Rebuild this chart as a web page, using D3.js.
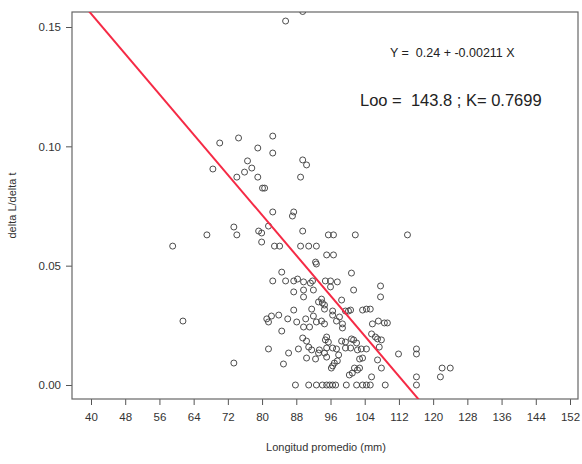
<!DOCTYPE html>
<html>
<head>
<meta charset="utf-8">
<script src="https://cdn.jsdelivr.net/npm/d3@7"></script>
<style>
  body { margin: 0; background: #fff; }
  svg { font-family: 'Liberation Sans', Arial, sans-serif; }
  .axis text { fill: #333; font-size: 11.5px; }
  .axis path, .axis line { stroke: #555; }
</style>
</head>
<body>
<div id="chart"></div>
<script>
// longitud promedio (mm)
const longitud = [
  85.5, 70.1, 74.5, 82.5, 79.0, 82.5, 76.6, 89.5, 90.4, 68.5,
  77.6, 75.9, 74.1, 79.0, 89.0, 80.1, 80.6, 82.5, 87.4, 87.1,
  81.5, 73.4, 74.1, 67.1, 79.2, 79.9, 89.5, 79.9, 59.1, 82.9,
  84.1, 89.0, 90.9, 92.7, 95.5, 96.7, 101.8, 114.0, 95.1, 96.7,
  92.5, 92.7, 84.6, 100.9, 82.5, 85.5, 87.4, 88.3, 89.7, 91.3,
  91.8, 94.8, 96.0, 97.6, 96.0, 107.7, 87.4, 89.7, 92.0, 101.4,
  89.7, 93.2, 93.9, 94.1, 94.6, 107.7, 98.6, 87.4, 91.6, 94.6,
  96.5, 96.5, 98.1, 99.5, 100.2, 100.7, 103.5, 104.4, 105.3, 61.5,
  81.1, 81.5, 82.2, 83.9, 86.0, 88.1, 89.7, 91.1, 92.0, 92.7,
  93.9, 94.6, 97.4, 98.8, 98.8, 107.2, 108.6, 109.3, 105.8, 84.6,
  89.5, 90.4, 90.9, 91.6, 81.5, 86.2, 88.5, 90.4, 92.5, 73.4,
  85.0, 95.1, 94.8, 95.5, 98.6, 99.5, 100.9, 101.4, 102.1, 105.6,
  106.5, 107.0, 93.4, 95.1, 96.5, 97.9, 97.4, 99.5, 100.7, 102.3,
  103.2, 104.4, 107.4, 107.9, 111.9, 116.1, 116.1, 94.6, 95.1, 97.6,
  102.8, 103.5, 107.0, 107.9, 96.2, 96.5, 101.6, 102.3, 102.8, 101.1,
  100.4, 105.6, 116.1, 121.7, 122.1, 124.0,
  87.8, 90.9, 92.7, 94.1, 95.1, 95.8, 96.5, 97.2, 99.7, 102.1,
  103.5, 104.4, 105.3, 108.8, 116.1,
  93.2, 96.9, 90.2, 89.5
]

// delta L / delta t
const deltaLdt = [
  0.1525, 0.1014, 0.1035, 0.1043, 0.0993, 0.0972, 0.0939, 0.0943, 0.0922, 0.0905,
  0.0909, 0.0892, 0.0871, 0.0871, 0.0871, 0.0825, 0.0825, 0.0725, 0.0725, 0.0708,
  0.0666, 0.0662, 0.0629, 0.0629, 0.0645, 0.0637, 0.0645, 0.0599, 0.0582, 0.0582,
  0.0582, 0.0582, 0.0582, 0.0582, 0.0629, 0.0629, 0.0629, 0.0629, 0.0545, 0.0545,
  0.0515, 0.0507, 0.0473, 0.0469, 0.0436, 0.0436, 0.0436, 0.0444, 0.0432, 0.0427,
  0.0436, 0.0436, 0.0436, 0.0432, 0.0411, 0.0415, 0.0390, 0.0398, 0.0398, 0.0398,
  0.0369, 0.0348, 0.0360, 0.0344, 0.0335, 0.0369, 0.0356, 0.0314, 0.0318, 0.0318,
  0.0310, 0.0293, 0.0285, 0.0310, 0.0310, 0.0314, 0.0314, 0.0318, 0.0318, 0.0268,
  0.0277, 0.0264, 0.0289, 0.0293, 0.0277, 0.0264, 0.0243, 0.0243, 0.0289, 0.0264,
  0.0268, 0.0256, 0.0268, 0.0256, 0.0239, 0.0268, 0.0260, 0.0260, 0.0256, 0.0226,
  0.0197, 0.0184, 0.0159, 0.0147, 0.0151, 0.0134, 0.0151, 0.0113, 0.0109, 0.0092,
  0.0088, 0.0201, 0.0189, 0.0180, 0.0184, 0.0180, 0.0193, 0.0189, 0.0176, 0.0214,
  0.0201, 0.0193, 0.0147, 0.0155, 0.0155, 0.0126, 0.0151, 0.0155, 0.0155, 0.0147,
  0.0151, 0.0151, 0.0159, 0.0189, 0.0130, 0.0151, 0.0130, 0.0134, 0.0117, 0.0101,
  0.0109, 0.0113, 0.0105, 0.0071, 0.0071, 0.0080, 0.0071, 0.0063, 0.0071, 0.0050,
  0.0042, 0.0034, 0.0034, 0.0034, 0.0071, 0.0071,
  0, 0, 0, 0, 0, 0, 0, 0, 0, 0,
  0, 0, 0, 0, 0,
  0.0134, 0.0092, 0.0277, 0.1565
]

const xTicks = [40, 48, 56, 64, 72, 80, 88, 96, 104, 112, 120, 128, 136, 144, 152]
const yTicks = [0.00, 0.05, 0.10, 0.15]

// regression: Y = a + b X
const intercept = 0.24
const slope = -0.00211
const equationText = 'Y =  0.24 + -0.00211 X'
const vbgfText = 'Loo =  143.8 ; K= 0.7699'

drawChart(d3.select('#chart'))

function drawChart (selection) {
  const width = 582
  const height = 464
  const box = { left: 72, top: 12, right: 578, bottom: 399 }

  const x = d3.scaleLinear()
    .domain([40, 152])
    .range([91, 570])

  const y = d3.scaleLinear()
    .domain([0, 0.15])
    .range([385, 27])

  const data = longitud.map((d, i) => [d, deltaLdt[i]])

  const svg = selection
    .append('svg')
    .attr('width', width)
    .attr('height', height)

  svg.append('clipPath')
    .attr('id', 'plot-clip')
    .append('rect')
    .attr('x', box.left)
    .attr('y', box.top)
    .attr('width', box.right - box.left)
    .attr('height', box.bottom - box.top)

  const xAxis = d3.axisBottom(x)
    .tickValues(xTicks)
    .tickFormat(d3.format('d'))
    .tickSizeInner(6)
    .tickSizeOuter(0)
    .tickPadding(8)

  const yAxis = d3.axisLeft(y)
    .tickValues(yTicks)
    .tickFormat(d3.format('.2f'))
    .tickSizeInner(6)
    .tickSizeOuter(0)
    .tickPadding(5)

  svg.append('g')
    .attr('class', 'axis axis--x')
    .attr('transform', `translate(0,${box.bottom})`)
    .call(xAxis)
    .call(g => g.select('.domain').remove())

  svg.append('g')
    .attr('class', 'axis axis--y')
    .attr('transform', `translate(${box.left},0)`)
    .call(yAxis)
    .call(g => g.select('.domain').remove())

  // frame
  svg.append('rect')
    .attr('x', box.left)
    .attr('y', box.top)
    .attr('width', box.right - box.left)
    .attr('height', box.bottom - box.top)
    .attr('fill', 'none')
    .attr('stroke', '#666')
    .attr('stroke-width', 1.2)

  const plot = svg.append('g')
    .attr('clip-path', 'url(#plot-clip)')

  plot.selectAll('circle')
    .data(data)
    .join('circle')
    .attr('cx', d => x(d[0]))
    .attr('cy', d => y(d[1]))
    .attr('r', 3)
    .attr('fill', 'none')
    .attr('stroke', '#3a3a3a')
    .attr('stroke-width', 0.9)

  const xFull = [x.invert(box.left), x.invert(box.right)]
  const line = d3.line()
    .x(d => x(d))
    .y(d => y(intercept + slope * d))

  plot.append('path')
    .datum(xFull)
    .attr('d', line)
    .attr('fill', 'none')
    .attr('stroke', '#f52a45')
    .attr('stroke-width', 2)

  svg.append('text')
    .attr('x', 390)
    .attr('y', 57)
    .attr('font-size', 12.5)
    .attr('fill', '#222')
    .style('white-space', 'pre')
    .text(equationText)

  svg.append('text')
    .attr('x', 360)
    .attr('y', 106)
    .attr('font-size', 16.5)
    .attr('fill', '#222')
    .style('white-space', 'pre')
    .text(vbgfText)

  svg.append('text')
    .attr('transform', `translate(16,${(box.top + box.bottom) / 2}) rotate(-90)`)
    .attr('text-anchor', 'middle')
    .attr('font-size', 11)
    .attr('fill', '#333')
    .text('delta L/delta t')

  svg.append('text')
    .attr('x', 326)
    .attr('y', 451)
    .attr('text-anchor', 'middle')
    .attr('font-size', 11)
    .attr('fill', '#333')
    .text('Longitud promedio (mm)')
}
</script>
</body>
</html>
